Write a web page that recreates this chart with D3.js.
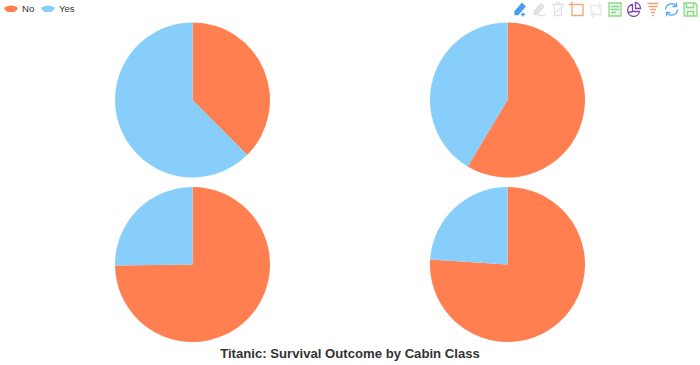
<!DOCTYPE html>
<html>
<head>
<meta charset="utf-8">
<style>html,body{margin:0;padding:0;background:#fff}svg{display:block}</style>
<script src="https://cdn.jsdelivr.net/npm/d3@7/dist/d3.min.js"></script>
</head>
<body>
<svg id="c" width="700" height="365"></svg>
<script>
const outcomes = ["No", "Yes"];
const colors = ["#ff7f50", "#87cefa"];
const cabinClasses = ["1st", "2nd", "3rd", "Crew"];
const noCounts = [122, 167, 528, 673];
const yesCounts = [203, 118, 178, 212];
const titleText = "Titanic: Survival Outcome by Cabin Class";

const svg = d3.select("#c");
const color = d3.scaleOrdinal(outcomes, colors);
const xPos = d3.scalePoint([0, 1], [192.5, 507.5]);
const yPos = d3.scalePoint([0, 1], [100, 264.5]);
const radius = 77.5;
const pie = d3.pie().sort(null).value(d => d.v);
const arc = d3.arc().innerRadius(0).outerRadius(radius);

cabinClasses.forEach((c, i) => {
  const g = svg.append("g").attr("class", "pie")
    .attr("transform", `translate(${xPos(i % 2)},${yPos(Math.floor(i / 2))})`);
  g.selectAll("path")
    .data(pie([{k: outcomes[0], v: noCounts[i]}, {k: outcomes[1], v: yesCounts[i]}]))
    .join("path")
    .attr("d", arc)
    .attr("fill", d => color(d.data.k));
});

svg.append("text").attr("x", 350).attr("y", 358).attr("text-anchor", "middle")
  .attr("font-family", "'Liberation Sans',Arial,sans-serif")
  .attr("font-size", 13.15).attr("font-weight", "bold").attr("fill", "#333")
  .text(titleText);

// legend
const legendX = [4, 41];
const legendTextX = [22, 59];
outcomes.forEach((o, i) => {
  const g = svg.append("g").attr("transform", `translate(${legendX[i]},0)`);
  g.append("path").attr("d", "M0,8 C3,4.5 11,4.5 14,8 C13,9 12.5,11.5 10,12 L4,12 C1.5,11.5 1,9 0,8Z")
    .attr("fill", color(o));
  svg.append("text").attr("x", legendTextX[i]).attr("y", 11.5)
    .attr("font-family", "'Liberation Sans',Arial,sans-serif")
    .attr("font-size", 9.6).attr("fill", "#333").text(o);
});

// toolbox
const tools = [
  {x:520,c:"#4a9ff0",d:"M-5,5 L-5,2 L2,-6 L5,-3 L-2,5Z M3,3 V7 M1,5 H5",f:true},
  {x:539,c:"#e2e2e2",d:"M-5,5 L-5,2 L2,-6 L5,-3 L-2,5Z M-1,6 H6",f:true},
  {x:558,c:"#e2e2e2",d:"M-6,-5 H6 M-4,-5 L-3,6 H3 L4,-5 M-2,-7 H2 M-2,3 L3,-2"},
  {x:577,c:"#f0a875",d:"M-4,-5 H6 V6 H-5 V-5 M-5,-8 V-2 M-8,-5 H-2"},
  {x:596,c:"#e8e8e8",d:"M-5,3 V-4 H4 M2,-7 L5,-4 L2,-1 M5,-2 V5 H-4 M-2,2 L-5,5 L-2,8"},
  {x:615,c:"#8cd98c",d:"M-6,-6.5 H6 V6.5 H-6Z M-4,-3 H4 M-4,0 H4 M-4,3 H1",bg:"#eaf9ea"},
  {x:633.5,c:"#7b45a8",d:"M-1,-5 A6,6 0 1 0 6,2 H-1Z M2,-7 A6,6 0 0 1 7,-1 H2Z M-5,3 L-1,2"},
  {x:653,c:"#e8a272",d:"M-5.5,-6 H5.5 M-4.5,-3 H4.5 M-3,0 H3 M-2,3 H2 M-1,6 H1"},
  {x:671.5,c:"#5aa9f5",d:"M-6,0 A6,6 0 0 1 5,-3 M5,-7 V-3 H1 M6,0 A6,6 0 0 1 -5,3 M-5,7 V3 H-1"},
  {x:690.5,c:"#8cd98c",d:"M-6.5,-6.5 H4.5 L6.5,-4.5 V6.5 H-6.5Z M-4,-6.5 V-2 H3 V-6.5 M-3,2 H3 V6.5 H-3Z",bg:"#eaf9ea"}
];
const tg = svg.append("g").attr("class", "toolbox");
tools.forEach(t => {
  tg.append("path").attr("transform", `translate(${t.x},9.5)`).attr("d", t.d)
    .attr("fill", t.f ? t.c : (t.bg || "none")).attr("stroke", t.c)
    .attr("stroke-width", 1.3);
});
</script>
</body>
</html>
